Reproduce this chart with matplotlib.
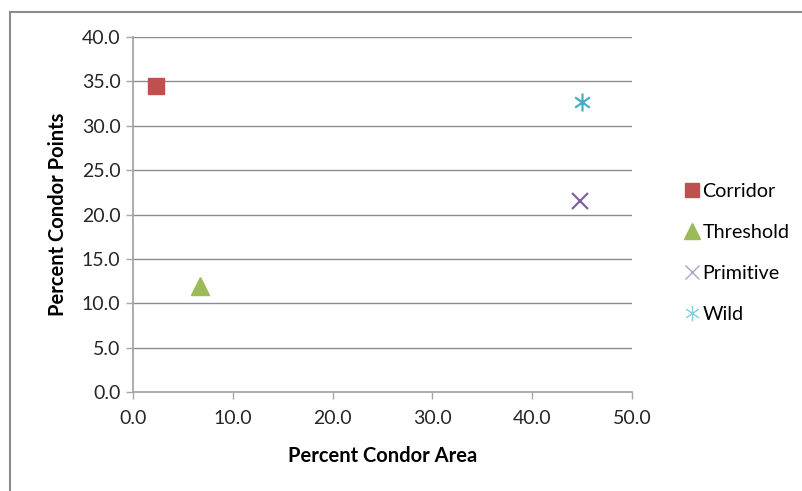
import matplotlib
matplotlib.use("Agg")
import matplotlib.pyplot as plt
from matplotlib.lines import Line2D
from matplotlib.path import Path
import numpy as np

plt.rcParams['font.family'] = ['Lato', 'DejaVu Sans']

# Condor area vs. condor points by zone
zones = ["Corridor", "Threshold", "Primitive", "Wild"]
pct_area = [2.3, 6.7, 44.8, 45.0]
pct_points = [34.5, 11.9, 21.5, 32.7]

x_ticks = [0, 10, 20, 30, 40, 50]
y_ticks = [0, 5, 10, 15, 20, 25, 30, 35, 40]

colors = ["#C0504D", "#9BBB59", "#8064A2", "#4BACC6"]

# six-armed asterisk marker
ang = np.deg2rad([90, 35, 145])
verts, codes = [], []
for a in ang:
    verts += [(np.cos(a), np.sin(a)), (-np.cos(a), -np.sin(a))]
    codes += [Path.MOVETO, Path.LINETO]
star = Path(verts, codes)

markers = ["s", "^", "x", star]
sizes = [11, 12.5, 12, 13]
mew = [1, 1, 1.6, 1.6]

fig = plt.figure(figsize=(8.03, 4.91), dpi=100)
W, H = 803, 491
ax = fig.add_axes([133 / W, (H - 392) / H, (632 - 133) / W, (392 - 37) / H])

for name, x, y, c, m, s, lw in zip(zones, pct_area, pct_points, colors, markers, sizes, mew):
    ax.plot([x], [y], linestyle="none", marker=m, markersize=s, color=c,
            markeredgewidth=lw, label=name)

ax.set_xlim(0, 50)
ax.set_ylim(0, 40)
ax.set_xticks(x_ticks)
ax.set_yticks(y_ticks)
ax.set_xticklabels([f"{v:.1f}" for v in x_ticks])
ax.set_yticklabels([f"{v:.1f}" for v in y_ticks])
ax.tick_params(axis="both", labelsize=14, colors="#A6A6A6", labelcolor="#262626",
               length=5, width=1, direction="out")
ax.tick_params(axis="x", pad=8)
ax.tick_params(axis="y", pad=4)
ax.grid(axis="y", color="#8C8C8C", linewidth=1)
ax.set_axisbelow(True)
for s in ["top", "right"]:
    ax.spines[s].set_visible(False)
for s in ["left", "bottom"]:
    ax.spines[s].set_color("#A6A6A6")
    ax.spines[s].set_linewidth(1.3)

ax.set_xlabel("Percent Condor Area", fontsize=14.5, fontweight="bold", labelpad=14)
ax.set_ylabel("Percent Condor Points", fontsize=14.5, fontweight="bold", labelpad=10)

handles = [
    Line2D([], [], linestyle="none", marker="s", markersize=10, color=colors[0]),
    Line2D([], [], linestyle="none", marker="^", markersize=11, color=colors[1]),
    Line2D([], [], linestyle="none", marker="x", markersize=10, color="#B3A2C7",
           markeredgewidth=1),
    Line2D([], [], linestyle="none", marker=star, markersize=11, color="#86CCDE",
           markeredgewidth=1),
]
fig.legend(handles, zones, loc="center left", bbox_to_anchor=(676 / W, (H - 253) / H),
           frameon=False, fontsize=14.2, handlelength=0.6, handletextpad=0.25,
           labelspacing=1.22, borderpad=0)

# outer chart frame
fig.add_artist(Line2D([10 / W, 10 / W], [0, (H - 12) / H], color="#8C8C8C", linewidth=1.5,
                      transform=fig.transFigure))
fig.add_artist(Line2D([10 / W, 803 / W], [(H - 12) / H, (H - 12) / H], color="#8C8C8C",
                      linewidth=1.5, transform=fig.transFigure))

fig.savefig("out.png", dpi=100)
